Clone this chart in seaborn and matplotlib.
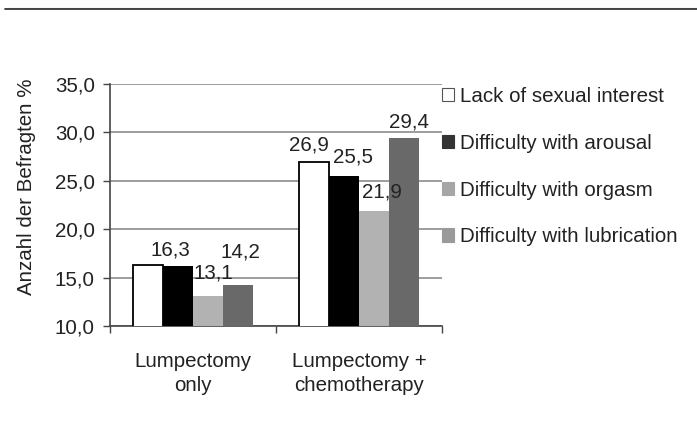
import matplotlib
matplotlib.use("Agg")
import matplotlib.pyplot as plt
from matplotlib.patches import Patch
from matplotlib.lines import Line2D
import seaborn as sns
import pandas as pd

groups = ["Lumpectomy\nonly", "Lumpectomy +\nchemotherapy"]
series = ["Lack of sexual interest", "Difficulty with arousal",
          "Difficulty with orgasm", "Difficulty with lubrication"]
lack_interest = [16.3, 26.9]
arousal = [16.2, 25.5]
orgasm = [13.1, 21.9]
lubrication = [14.2, 29.4]
yticks = [10, 15, 20, 25, 30, 35]
ytick_labels = ["10,0", "15,0", "20,0", "25,0", "30,0", "35,0"]

colors = ["#ffffff", "#000000", "#b2b2b2", "#696969"]
legend_colors = ["#ffffff", "#333333", "#a6a6a6", "#9a9a9a"]

values = [lack_interest, arousal, orgasm, lubrication]
rows = []
for s, vals in zip(series, values):
    for g, v in zip(groups, vals):
        rows.append({"group": g, "series": s, "value": v})
df = pd.DataFrame(rows)

sns.set_theme(style="white")
plt.rcParams["font.family"] = ["Liberation Sans", "DejaVu Sans"]
FS = 14.8

fig = plt.figure(figsize=(6.97, 4.4), dpi=100)
ax = fig.add_axes([110/697, 1-326/440, 332/697, 242/440])

sns.barplot(data=df, x="group", y="value", hue="series", hue_order=series,
            order=groups, palette=colors, width=0.72, ax=ax, legend=False,
            saturation=1, edgecolor="none", linewidth=0)

patches = [p for p in ax.patches]
for i, p in enumerate(patches):
    si = i // len(groups)
    if si == 0:
        p.set_edgecolor("#000000")
        p.set_linewidth(1.3)
    p.set_zorder(3)

# value labels (text offsets in pixels)
label_spec = {
    (0, 0): ("16,3", 22, 6),
    (2, 0): ("13,1", 5, 13),
    (3, 0): ("14,2", 3, 24),
    (0, 1): ("26,9", -5, 8),
    (1, 1): ("25,5", 9, 9),
    (2, 1): ("21,9", 8, 9),
    (3, 1): ("29,4", 5, 7),
}
for i, p in enumerate(patches):
    si, gi = i // len(groups), i % len(groups)
    if (si, gi) in label_spec:
        txt, dx, dy = label_spec[(si, gi)]
        ax.annotate(txt, (p.get_x() + p.get_width()/2, p.get_height()),
                    xytext=(dx, dy), textcoords="offset pixels",
                    ha="center", va="bottom", fontsize=FS, color="#222222",
                    zorder=5)

ax.set_ylim(10, 35)
ax.set_xlim(-0.5, 1.5)
ax.set_yticks(yticks)
ax.set_yticklabels(ytick_labels, fontsize=FS, color="#222222")
ax.set_xticks([0, 1])
ax.set_xticklabels(groups, fontsize=FS, color="#222222", linespacing=1.3)
ax.set_xticks([-0.5, 0.5, 1.5], minor=True)
ax.tick_params(axis="x", which="major", length=0, pad=19)
ax.tick_params(axis="x", which="minor", length=5, width=1, color="#444444", direction="out", bottom=True)
ax.tick_params(axis="y", length=5, width=1, color="#444444", direction="out", pad=6, left=True)
ax.set_xlabel("")
ax.set_ylabel("")
ax.yaxis.grid(True, color="#8c8c8c", linewidth=1.2)
ax.set_axisbelow(True)
for side in ["top", "right"]:
    ax.spines[side].set_visible(False)
for side in ["left", "bottom"]:
    ax.spines[side].set_color("#444444")
    ax.spines[side].set_linewidth(1.2)

fig.text(27/697, 1-187/440, "Anzahl der Befragten %", rotation=90,
         ha="center", va="center", fontsize=FS, color="#222222")

handles = [Patch(facecolor=c, edgecolor=("#555555" if i == 0 else c), linewidth=0.8)
           for i, c in enumerate(legend_colors)]
fig.legend(handles, series, loc="upper left", bbox_to_anchor=(442/697, 1-87/440),
           frameon=False, fontsize=FS, handlelength=0.6, handleheight=0.6,
           handletextpad=0.3, labelspacing=1.35, borderpad=0, borderaxespad=0,
           labelcolor="#222222")

# top rule
fig.add_artist(Line2D([5/697, 1], [1-8/440, 1-8/440], color="#b0b0b0", linewidth=0.8))
fig.add_artist(Line2D([5/697, 1], [1-9.5/440, 1-9.5/440], color="#3a3a3a", linewidth=1.3))

fig.savefig("out.png", dpi=100)
